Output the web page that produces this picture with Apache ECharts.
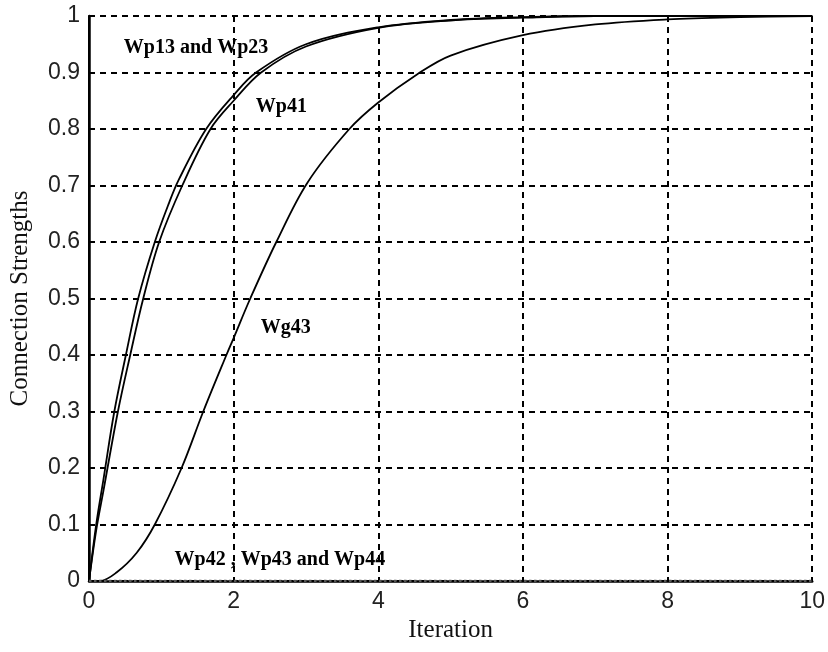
<!DOCTYPE html>
<html>
<head>
<meta charset="utf-8">
<script src="https://cdn.jsdelivr.net/npm/echarts@6/dist/echarts.min.js"></script>
<style>
  html, body { margin: 0; padding: 0; background: #fff; }
  #chart { width: 828px; height: 652px; }
</style>
</head>
<body>
<div id="chart"></div>
<script>
// tick labels
var xTickLabels = ['0', '2', '4', '6', '8', '10'];
var yTickLabels = ['0', '0.1', '0.2', '0.3', '0.4', '0.5', '0.6', '0.7', '0.8', '0.9', '1'];

// Wp13 and Wp23 (the two curves coincide)
var wp13X = [0, 0.1, 0.2, 0.35, 0.51, 0.68, 0.91, 1.1, 1.24, 1.62, 2.0, 2.31, 3.0, 4.0, 5.0, 6.0, 7.0, 8.0, 10];
var wp13Y = [0, 0.1, 0.18, 0.3, 0.4, 0.5, 0.6, 0.667, 0.71, 0.8, 0.86, 0.9, 0.95, 0.98, 0.993, 0.998, 1, 1, 1];

// Wp41
var wp41X = [0, 0.1, 0.2, 0.4, 0.57, 0.75, 0.97, 1.29, 1.68, 2.0, 2.38, 3.0, 4.0, 5.0, 6.0, 7.0, 8.0, 10];
var wp41Y = [0, 0.09, 0.16, 0.3, 0.4, 0.5, 0.6, 0.7, 0.8, 0.85, 0.9, 0.946, 0.979, 0.992, 0.997, 1, 1, 1];

// Wg43
var wg43X = [0, 0.15, 0.38, 0.66, 0.91, 1.28, 1.58, 1.9, 2.0, 2.23, 2.59, 3.02, 3.6, 4.0, 4.54, 5.0, 6.0, 7.0, 8.0, 9.0, 10];
var wg43Y = [0, 0, 0.015, 0.05, 0.1, 0.2, 0.3, 0.4, 0.43, 0.5, 0.6, 0.705, 0.8, 0.847, 0.897, 0.93, 0.966, 0.985, 0.994, 0.998, 1];

// Wp42, Wp43 and Wp44 stay at zero
var wp4xX = [0, 10];
var wp4xY = [0, 0];

function pairs(xs, ys) {
  var out = [];
  for (var i = 0; i < xs.length; i++) out.push([xs[i], ys[i]]);
  return out;
}

var chart = echarts.init(document.getElementById('chart'));

var tickFont = { fontFamily: 'Liberation Sans', fontSize: 23, color: '#222' };
var gridLine = { show: true, lineStyle: { color: '#000', width: 2, type: [6, 5] } };

function curve(name, data) {
  return {
    name: name,
    type: 'line',
    data: data,
    smooth: 0.35,
    showSymbol: false,
    silent: true,
    z: 3,
    lineStyle: { color: '#000', width: 1.8 }
  };
}

var option = {
  animation: false,
  backgroundColor: '#fff',
  grid: { left: 89, right: 14, top: 16, bottom: 71 },
  xAxis: [{
    type: 'value',
    min: 0, max: 10, interval: 2,
    name: 'Iteration',
    nameLocation: 'middle',
    nameGap: 33,
    nameTextStyle: { fontFamily: 'Liberation Serif', fontSize: 25, color: '#111' },
    axisLine: { show: false },
    axisTick: { show: false },
    axisLabel: Object.assign({ margin: 9, formatter: function (v) { return xTickLabels[Math.round(v / 2)]; } }, tickFont),
    splitLine: gridLine
  }, {
    type: 'value', position: 'top',
    min: 0, max: 10,
    axisLine: { show: true, lineStyle: { color: '#000', width: 2.5 } },
    axisTick: { show: false }, axisLabel: { show: false }, splitLine: { show: false }
  }],
  yAxis: [{
    type: 'value',
    min: 0, max: 1, interval: 0.1,
    name: 'Connection Strengths',
    nameLocation: 'middle',
    nameGap: 56,
    nameTextStyle: { fontFamily: 'Liberation Serif', fontSize: 25, color: '#111' },
    axisLine: { show: true, lineStyle: { color: '#000', width: 2.5 } },
    axisTick: { show: false },
    axisLabel: Object.assign({ margin: 9, formatter: function (v) { return yTickLabels[Math.round(v * 10)]; } }, tickFont),
    splitLine: gridLine
  }, {
    type: 'value', position: 'right',
    min: 0, max: 1,
    axisLine: { show: true, lineStyle: { color: '#000', width: 2 } },
    axisTick: { show: false }, axisLabel: { show: false }, splitLine: { show: false }
  }],
  series: [
    curve('Wp13 and Wp23', pairs(wp13X, wp13Y)),
    curve('Wp41', pairs(wp41X, wp41Y)),
    curve('Wg43', pairs(wg43X, wg43Y)),
    {
      name: 'Wp42 , Wp43 and Wp44',
      type: 'line',
      data: pairs(wp4xX, wp4xY),
      showSymbol: false,
      silent: true,
      z: 4,
      lineStyle: { color: '#555', width: 2.5, type: 'dotted' }
    }
  ]
};
chart.setOption(option);

// curve labels placed in data coordinates
var notes = [
  { text: 'Wp13 and Wp23', at: [1.48, 0.943] },
  { text: 'Wp41', at: [2.66, 0.839] },
  { text: 'Wg43', at: [2.72, 0.448] },
  { text: 'Wp42 , Wp43 and Wp44', at: [2.64, 0.037] }
];
var els = notes.map(function (n) {
  var p = chart.convertToPixel({ gridIndex: 0 }, n.at);
  return {
    type: 'text', x: p[0], y: p[1], z: 10,
    style: {
      text: n.text, fill: '#000',
      font: 'bold 20px "Liberation Serif"',
      align: 'center', verticalAlign: 'middle'
    }
  };
});
chart.setOption({ graphic: els });
</script>
</body>
</html>
